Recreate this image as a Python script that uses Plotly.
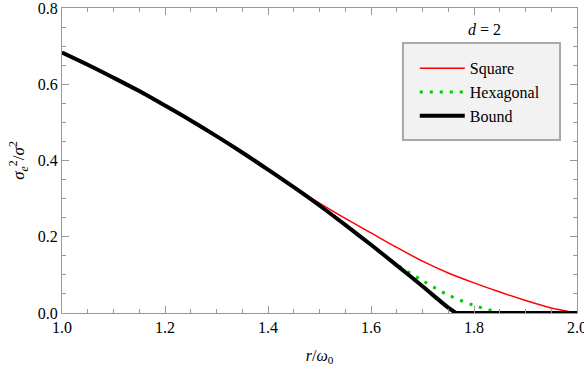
import plotly.graph_objects as go

r_bound = [1.00, 1.05, 1.10, 1.15, 1.20, 1.25, 1.30, 1.35, 1.40, 1.45, 1.50, 1.55, 1.60, 1.65, 1.70, 1.75, 1.765]
v_bound = [0.683, 0.651, 0.617, 0.582, 0.544, 0.505, 0.464, 0.421, 0.376, 0.330, 0.282, 0.231, 0.179, 0.125, 0.070, 0.014, 0.0]
r_bound_flat = [1.765, 2.00]
v_bound_flat = [0.0, 0.0]

r_square = [1.00, 1.10, 1.20, 1.30, 1.40, 1.45, 1.50, 1.55, 1.60, 1.65, 1.70, 1.75, 1.80, 1.85, 1.90, 1.95, 2.00]
v_square = [0.683, 0.617, 0.544, 0.464, 0.376, 0.331, 0.288, 0.248, 0.210, 0.172, 0.136, 0.105, 0.079, 0.055, 0.033, 0.013, 0.0]

r_hex = [1.00, 1.10, 1.20, 1.30, 1.40, 1.50, 1.60, 1.65, 1.70, 1.75, 1.80, 1.85, 1.90, 2.00]
v_hex = [0.683, 0.617, 0.544, 0.464, 0.376, 0.282, 0.179, 0.127, 0.085, 0.047, 0.020, 0.002, 0.0, 0.0]

x_ticks = [1.0, 1.2, 1.4, 1.6, 1.8, 2.0]
y_ticks = [0.0, 0.2, 0.4, 0.6, 0.8]

serif = "Times New Roman, Liberation Serif, DejaVu Serif, serif"

fig = go.Figure()
fig.add_trace(go.Scatter(x=r_square, y=v_square, mode="lines", name="Square",
                         line=dict(color="#ff0000", width=1.5, shape="spline", smoothing=0.8)))
fig.add_trace(go.Scatter(x=r_hex, y=v_hex, mode="lines", name="Hexagonal",
                         line=dict(color="#00cc00", width=3, dash="3px,7px", shape="spline", smoothing=0.8)))
fig.add_trace(go.Scatter(x=r_bound, y=v_bound, mode="lines", name="Bound", legendgroup="b",
                         line=dict(color="#000000", width=4, shape="spline", smoothing=0.8)))
fig.add_trace(go.Scatter(x=r_bound_flat, y=v_bound_flat, mode="lines", name="Bound", legendgroup="b",
                         showlegend=False, line=dict(color="#000000", width=4)))

axis_common = dict(
    showline=True, linecolor="#999999", linewidth=1, mirror="allticks",
    ticks="inside", ticklen=7, tickcolor="#999999", tickwidth=1,
    showgrid=False, zeroline=False, ticklabeloverflow="allow", automargin=False,
    tickfont=dict(family=serif, size=16, color="#000000"),
)
fig.update_xaxes(range=[1.0, 2.0], tickvals=x_ticks, ticktext=[f"{v:.1f}" for v in x_ticks],
                 minor=dict(dtick=0.05, ticks="inside", ticklen=4, tickcolor="#999999"),
                 title=dict(text="<i>r</i>/<i>ω</i><sub>0</sub>", font=dict(family=serif, size=16, color="#000"), standoff=14),
                 **axis_common)
fig.update_yaxes(range=[0.0, 0.8], tickvals=y_ticks, ticktext=[f"{v:.1f}" for v in y_ticks],
                 minor=dict(dtick=0.05, ticks="inside", ticklen=4, tickcolor="#999999"),
                 title=dict(text="<i>σ</i><sub><i>e</i></sub><sup>2</sup>/<i>σ</i><sup>2</sup>", font=dict(family=serif, size=17, color="#000"), standoff=8),
                 **axis_common)

fig.update_layout(
    width=584, height=367,
    margin=dict(l=62, r=7, t=8, b=54),
    plot_bgcolor="white", paper_bgcolor="white",
    shapes=[dict(type="rect", xref="paper", yref="paper", x0=0.662, x1=0.967, y0=0.567, y1=0.885,
                 fillcolor="#f2f2f2", line=dict(color="#a8a8a8", width=2), layer="below")],
    legend=dict(x=0.685, y=0.858, xanchor="left", yanchor="top",
                bgcolor="rgba(0,0,0,0)", borderwidth=0,
                font=dict(family=serif, size=16, color="#000"),
                tracegroupgap=0, itemwidth=45),
    annotations=[dict(x=0.821, y=0.931, xref="paper", yref="paper",
                      xanchor="center", yanchor="middle",
                      text="<i>d</i> = 2", showarrow=False,
                      font=dict(family=serif, size=16, color="#000"))],
    showlegend=True,
)

fig.write_html("out.html")
